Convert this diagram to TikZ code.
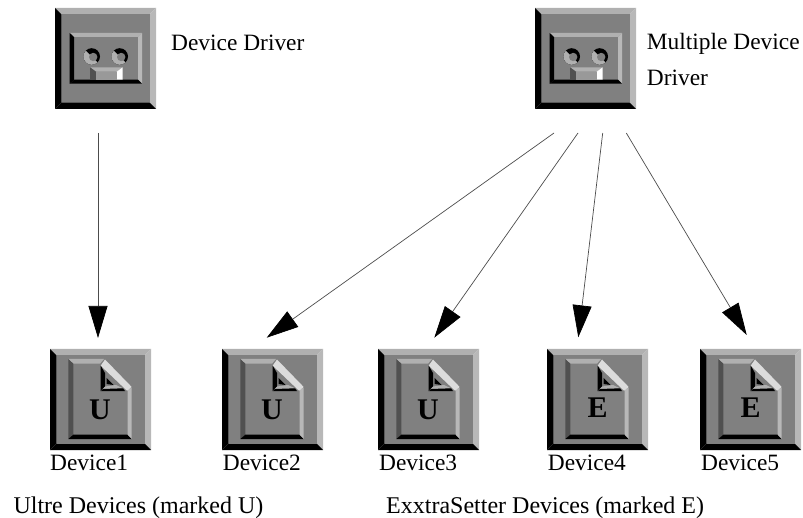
\documentclass[tikz,border=0pt]{standalone}
\usepackage{fontspec}
\setmainfont{Liberation Serif}
\usepackage{tikz}
\usetikzlibrary{arrows.meta}
\definecolor{facegray}{HTML}{808080}
\definecolor{lightgray}{HTML}{B0B0B0}
\definecolor{palegray}{HTML}{B8B8B8}
\definecolor{darkgray}{HTML}{505050}
\definecolor{foldgray}{HTML}{DCDCDC}
\tikzset{
    label/.style = {inner sep = 0pt, anchor = base west, font = \fontsize{23.4}{26}\selectfont},
    wide label/.style = {label, font = \fontsize{24}{26}\selectfont},
    letter/.style = {inner sep = 0pt, font = \fontsize{30}{32}\selectfont\bfseries},
    link/.style = {draw = black!70, line width = 0.7pt, -{Triangle[length = 32pt, width = 19pt, color = black]}},
    % square key with bevelled edges
    keycap/.pic = {
        \fill[lightgray] (0,0) -- (101,0) -- (94.5,6.5) -- (6.5,6.5) -- cycle;
        \fill[palegray] (101,0) -- (101,101) -- (94.5,94.5) -- (94.5,6.5) -- cycle;
        \fill[black] (0,0) -- (6.5,6.5) -- (6.5,94.5) -- (0,101) -- cycle;
        \fill[black] (0,101) -- (6.5,94.5) -- (94.5,94.5) -- (101,101) -- cycle;
        \fill[facegray] (6.5,6.5) rectangle (94.5,94.5);
    },
    reel/.pic = {
        \fill[black] (0,0) circle (8.3);
        \fill[lightgray] (225:8.3) arc[start angle = 225, end angle = 45, radius = 8.3] -- cycle;
        \fill[facegray] (1.5,0.5) circle (4.2);
    },
    driver/.pic = {
        \pic at (0,0) {keycap};
        \fill[lightgray] (14.7,25) -- (87,25) -- (83,29) -- (19,29) -- cycle;
        \fill[palegray] (87,25) -- (87,75.7) -- (83,71.7) -- (83,29) -- cycle;
        \fill[black] (14.7,25) -- (19,29) -- (19,71.7) -- (14.7,75.7) -- cycle;
        \fill[black] (14.7,75.7) -- (19,71.7) -- (83,71.7) -- (87,75.7) -- cycle;
        \pic at (36.7,48.5) {reel};
        \pic at (64.7,48.5) {reel};
        \fill[lightgray] (35,59.3) -- (67.7,59.3) -- (61.7,63.7) -- (41,63.7) -- cycle;
        \fill[darkgray] (35,59.3) -- (41,63.7) -- (41,71.7) -- (35,71.7) -- cycle;
        \fill[white] (67.7,59.3) -- (67.7,71.7) -- (61.7,71.7) -- (61.7,63.7) -- cycle;
        \fill[black!40] (41,63.7) rectangle (61.7,71.7);
    },
    device/.pic = {
        \pic at (0,0) {keycap};
        \fill[lightgray] (18.3,10) -- (54,10) -- (50,14.7) -- (23.3,14.7) -- cycle;
        \fill[darkgray] (18.3,10) -- (23.3,14.7) -- (23.3,85.7) -- (18.3,90) -- cycle;
        \fill[black] (18.3,90) -- (23.3,85.7) -- (77.7,85.7) -- (81.7,90) -- cycle;
        \fill[palegray] (81.7,39) -- (81.7,90) -- (77.7,85.7) -- (77.7,40) -- cycle;
        \fill[foldgray] (55,10.5) -- (81.7,38) -- (77,41.7) -- (50.7,16.7) -- cycle;
        % turned-over corner
        \fill[black] (50.7,16.7) -- (50.7,42) -- (55,37.5) -- (55,24) -- cycle;
        \fill[lightgray] (50.7,42) -- (73,39.3) -- (66,36) -- (55,37.5) -- cycle;
        \fill[black] (50.7,42) -- (75,42) -- (73,39.3) -- (53,40) -- cycle;
        \fill[black] (56.5,29) -- (63.5,36) -- (56.5,35) -- cycle;
    },
}
\begin{document}
\begin{tikzpicture}[x = 1pt, y = -1pt]
    \useasboundingbox (0,0) rectangle (803,518);

    \pic at (55,8) {driver};
    \pic at (535,8) {driver};
    \pic at (50,349) {device};
    \pic at (222,349) {device};
    \pic at (378,349) {device};
    \pic at (547,349) {device};
    \pic at (700,349) {device};

    \node[letter] (letterone) at (100,410) {U};
    \node[letter] (lettertwo) at (272,410) {U};
    \node[letter] (letterthree) at (428,410) {U};
    \node[letter] (letterfour) at (597.5,408) {E};
    \node[letter] (letterfive) at (750.5,408) {E};

    \node[label] (driverlabel) at (171,50.5) {Device Driver};
    \node[label] (multilabel) at (646.7,50) {Multiple Device};
    \node[label] (multilabeltwo) at (646.7,86) {Driver};

    \node[label] (deviceone) at (50,470.7) {Device1};
    \node[label] (devicetwo) at (222.7,470.7) {Device2};
    \node[label] (devicethree) at (379,470.7) {Device3};
    \node[label] (devicefour) at (547.7,470.7) {Device4};
    \node[label] (devicefive) at (701,470.7) {Device5};

    \node[wide label] (ultre) at (13.3,513.3) {Ultre Devices (marked U)};
    \node[wide label] (exxtra) at (386,513.3) {ExxtraSetter Devices (marked E)};

    \coordinate (startone) at (98,133);
    \coordinate (starttwo) at (554,133);
    \coordinate (startthree) at (578,133);
    \coordinate (startfour) at (602.7,133);
    \coordinate (startfive) at (626.3,133);
    \coordinate (tipone) at (98,338);
    \coordinate (tiptwo) at (266.7,337.7);
    \coordinate (tipthree) at (434.3,337.7);
    \coordinate (tipfour) at (578.3,337.3);
    \coordinate (tipfive) at (746.7,335);

    \draw[link] (startone) -- (tipone);
    \draw[link] (starttwo) -- (tiptwo);
    \draw[link] (startthree) -- (tipthree);
    \draw[link] (startfour) -- (tipfour);
    \draw[link] (startfive) -- (tipfive);
\end{tikzpicture}
\end{document}
